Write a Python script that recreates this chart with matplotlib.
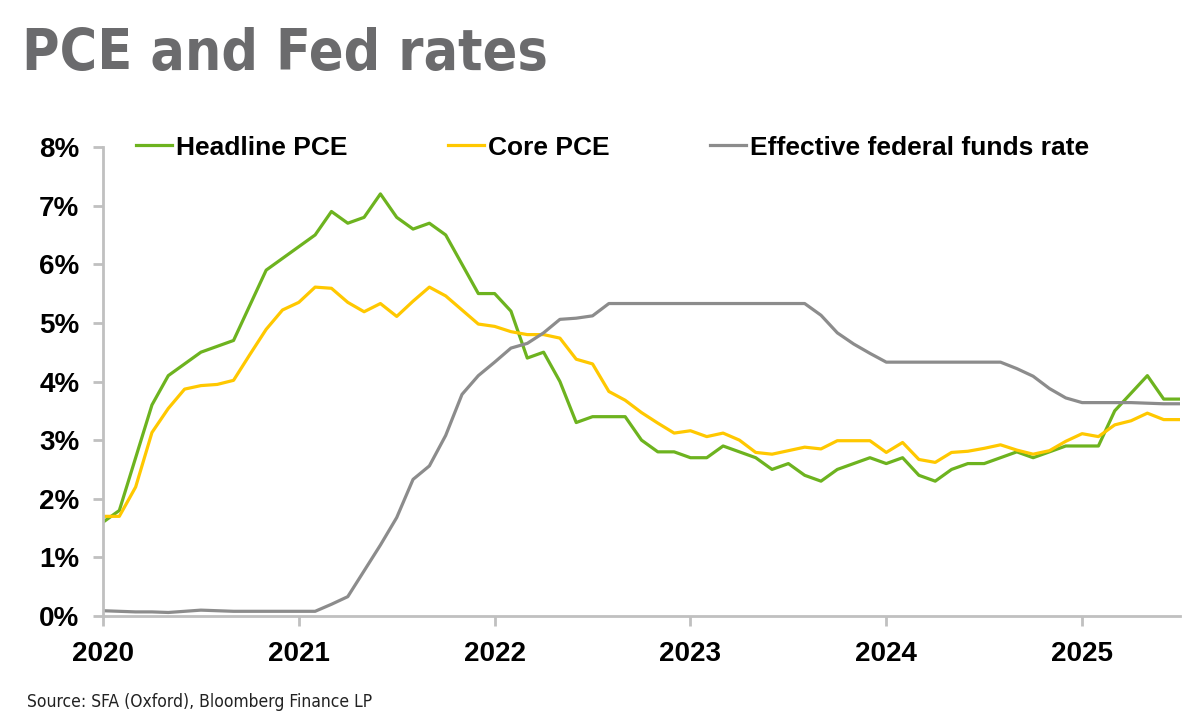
import numpy as np
import matplotlib
matplotlib.use('Agg')
import matplotlib.pyplot as plt
from matplotlib import font_manager

# monthly readings, Jan 2020 .. Jul 2025 (values in %)
headline_pce = [1.6, 1.8, 2.7, 3.6, 4.1, 4.3, 4.5, 4.6, 4.7, 5.3, 5.9, 6.1,
                6.3, 6.5, 6.9, 6.7, 6.8, 7.2, 6.8, 6.6, 6.7, 6.5, 6.0, 5.5,
                5.5, 5.2, 4.4, 4.5, 4.0, 3.3, 3.4, 3.4, 3.4, 3.0, 2.8, 2.8,
                2.7, 2.7, 2.9, 2.8, 2.7, 2.5, 2.6, 2.4, 2.3, 2.5, 2.6, 2.7,
                2.6, 2.7, 2.4, 2.3, 2.5, 2.6, 2.6, 2.7, 2.8, 2.7, 2.8, 2.9,
                2.9, 2.9, 3.5, 3.8, 4.1, 3.7, 3.7]
core_pce = [1.7, 1.7, 2.2, 3.13, 3.54, 3.87, 3.93, 3.95, 4.02, 4.46, 4.89, 5.22,
            5.35, 5.61, 5.59, 5.35, 5.19, 5.33, 5.11, 5.37, 5.61, 5.46, 5.22, 4.98,
            4.94, 4.85, 4.80, 4.80, 4.74, 4.38, 4.30, 3.83, 3.68, 3.47, 3.29, 3.12,
            3.16, 3.06, 3.12, 3.00, 2.79, 2.76, 2.82, 2.88, 2.85, 2.99, 2.99, 2.99,
            2.79, 2.96, 2.67, 2.62, 2.79, 2.81, 2.86, 2.92, 2.83, 2.76, 2.82, 2.98,
            3.11, 3.06, 3.26, 3.33, 3.46, 3.35, 3.35]
fed_funds = [0.09, 0.08, 0.07, 0.07, 0.06, 0.08, 0.10, 0.09, 0.08, 0.08, 0.08, 0.08,
             0.08, 0.08, 0.20, 0.33, 0.77, 1.21, 1.68, 2.33, 2.56, 3.08, 3.78, 4.10,
             4.33, 4.57, 4.65, 4.83, 5.06, 5.08, 5.12, 5.33, 5.33, 5.33, 5.33, 5.33,
             5.33, 5.33, 5.33, 5.33, 5.33, 5.33, 5.33, 5.33, 5.13, 4.83, 4.64, 4.48,
             4.33, 4.33, 4.33, 4.33, 4.33, 4.33, 4.33, 4.33, 4.22, 4.09, 3.88, 3.72,
             3.64, 3.64, 3.64, 3.64, 3.63, 3.62, 3.62]
years = [2020, 2021, 2022, 2023, 2024, 2025]
y_ticks = [0, 1, 2, 3, 4, 5, 6, 7, 8]

months = 2020 + np.arange(len(headline_pce)) / 12

green = '#6db31f'
yellow = '#ffc800'
grey = '#8c8c8c'
axis_col = '#c0c0c0'


def narrow_font(bold):
    # look for a condensed / narrow upright face that happens to be installed
    for f in font_manager.fontManager.ttflist:
        nm = f.name.lower()
        if f.style != 'normal':
            continue
        w = f.weight
        is_bold = (w in ('bold', 'semibold', 'demibold')) or (isinstance(w, int) and w >= 600)
        narrow = ('narrow' in nm or 'condensed' in nm or
                  f.stretch in ('condensed', 'semi-condensed', 'extra-condensed') or
                  (isinstance(f.stretch, int) and f.stretch < 500))
        if narrow and is_bold == bold:
            return font_manager.FontProperties(fname=f.fname)
    return None


title_fp = narrow_font(True)
src_fp = narrow_font(False)

fig = plt.figure(figsize=(12, 7.25), dpi=100)
ax = fig.add_axes([103 / 1200, 109 / 725, (1180 - 103) / 1200, (616 - 147) / 725])

ax.plot(months, headline_pce, color=green, lw=2.3, label='Headline PCE')
ax.plot(months, core_pce, color=yellow, lw=2.3, label='Core PCE')
ax.plot(months, fed_funds, color=grey, lw=2.3, label='Effective federal funds rate')

ax.set_xlim(2020, months[-1])
ax.set_ylim(0, 8)
ax.set_xticks(years)
ax.set_xticklabels([str(y) for y in years])
ax.set_yticks(y_ticks)
ax.set_yticklabels(['%d%%' % v for v in y_ticks])

for s in ['top', 'right']:
    ax.spines[s].set_visible(False)
for s in ['left', 'bottom']:
    ax.spines[s].set_color(axis_col)
    ax.spines[s].set_linewidth(2)
ax.tick_params(axis='both', color=axis_col, width=2, length=7, direction='out')
ax.tick_params(axis='y', pad=10)
ax.tick_params(axis='x', pad=11)
for lab in ax.get_xticklabels() + ax.get_yticklabels():
    lab.set_family('Liberation Sans')
    lab.set_fontweight('bold')
    lab.set_fontsize(20)
    lab.set_color('black')

leg = ax.legend(loc='lower left', bbox_to_anchor=(0.031, 0.973), ncol=3, frameon=False,
                handlelength=1.36, handletextpad=0.15, columnspacing=3.8,
                prop={'family': 'Liberation Sans', 'weight': 'bold', 'size': 19},
                borderaxespad=0, borderpad=0)

if title_fp is not None:
    title_fp.set_size(41)
    fig.text(22 / 1200, 1 - 70 / 725, 'PCE and Fed rates', color='#6b6b6d',
             fontproperties=title_fp, ha='left', va='baseline')
else:
    fig.text(22 / 1200, 1 - 70 / 725, 'PCE and Fed rates', color='#6b6b6d',
             fontsize=40, fontweight='bold', family='Liberation Sans',
             ha='left', va='baseline')
if src_fp is not None:
    src_fp.set_size(12.5)
    fig.text(27 / 1200, 1 - 707 / 725, 'Source: SFA (Oxford), Bloomberg Finance LP', color='#222222',
             fontproperties=src_fp, ha='left', va='baseline')
else:
    fig.text(27 / 1200, 1 - 707 / 725, 'Source: SFA (Oxford), Bloomberg Finance LP', color='#222222',
             fontsize=12, family='Liberation Sans', ha='left', va='baseline')

fig.savefig('out.png', dpi=100)
